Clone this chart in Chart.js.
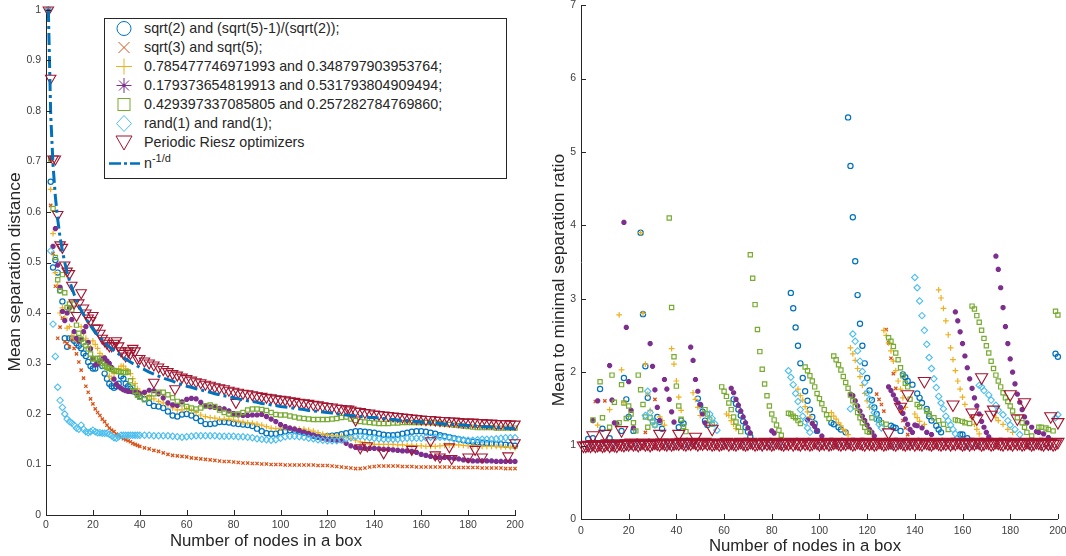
<!DOCTYPE html>
<html>
<head>
<meta charset="utf-8">
<script src="https://cdn.jsdelivr.net/npm/chart.js@4"></script>
<style>
  html, body { margin: 0; padding: 0; background: #fff; }
  body { width: 1066px; height: 556px; position: relative; overflow: hidden; font-family: "Liberation Sans", Arial, sans-serif; }
  canvas { position: absolute; top: 0; }
  #leftChart { left: 0; }
  #rightChart { left: 533px; top: -3px; }
  #legend { position: absolute; left: 104px; top: 18px; width: 403px; height: 161px; border: 1px solid #262626; background: #fff; box-sizing: border-box; }
  .row { position: absolute; left: 0; height: 19px; line-height: 19px; font-size: 14.3px; color: #262626; white-space: nowrap; }
  .row svg { position: absolute; left: 4px; top: 0; }
  .row span { position: absolute; left: 39px; }
  .row sup { font-size: 11px; line-height: 0; }
</style>
</head>
<body>
<canvas id="leftChart" width="533" height="556"></canvas>
<canvas id="rightChart" width="533" height="556"></canvas>
<div id="legend"></div>
<script>
// --- Labels ---
const seriesNames = [
  "sqrt(2) and (sqrt(5)-1)/(sqrt(2));",
  "sqrt(3) and sqrt(5);",
  "0.785477746971993 and 0.348797903953764;",
  "0.179373654819913 and 0.531793804909494;",
  "0.429397337085805 and 0.257282784769860;",
  "rand(1) and rand(1);",
  "Periodic Riesz optimizers"
];
const xAxisTitle = "Number of nodes in a box";
const leftYTitle = "Mean separation distance";
const rightYTitle = "Mean to minimal separation ratio";
const xTicks = [0, 20, 40, 60, 80, 100, 120, 140, 160, 180, 200];
const leftYTicks = [0, 0.1, 0.2, 0.3, 0.4, 0.5, 0.6, 0.7, 0.8, 0.9, 1];
const rightYTicks = [0, 1, 2, 3, 4, 5, 6, 7];

// --- Left chart data ---
const nodes = [1,2,3,4,5,6,7,8,9,10,11,12,13,14,15,16,17,18,19,20,21,22,23,24,25,26,27,28,29,30,31,32,33,34,35,36,37,38,39,40,
  42,44,46,48,50,52,54,56,58,60,62,64,66,68,70,72,74,76,78,80,82,84,86,88,90,92,94,96,98,100,
  102,104,106,108,110,112,114,116,118,120,122,124,126,128,130,132,134,136,138,140,142,144,146,148,150,152,154,156,158,160,
  162,164,166,168,170,172,174,176,178,180,182,184,186,188,190,192,194,196,198,200];
const meanSqrt2 = [1,.66,.49,.505,.48,.445,.423,.35,.333,.35,.35,.345,.34,.335,.33,.32,.315,.303,.295,.29,.29,.3,.31,.295,.28,.27,.26,.255,.252,.255,.26,.275,.27,.26,.255,.25,.245,.245,.24,.235,
  .23,.222,.216,.215,.212,.205,.197,.195,.199,.2,.197,.192,.186,.18,.18,.181,.184,.184,.183,.181,.18,.179,.178,.176,.171,.166,.162,.161,.161,.164,
  .166,.168,.167,.165,.163,.16,.157,.155,.155,.156,.157,.158,.16,.162,.164,.166,.166,.165,.164,.163,.161,.159,.158,.158,.159,.161,.163,.165,.166,.166,
  .165,.163,.161,.158,.156,.154,.152,.15,.148,.146,.145,.144,.143,.142,.141,.14,.14,.139,.138,.137];
const meanSqrt3 = [1,.613,.518,.453,.35,.372,.39,.343,.34,.333,.348,.33,.319,.303,.287,.271,.255,.243,.23,.22,.21,.203,.197,.19,.185,.178,.172,.168,.165,.16,.157,.154,.151,.149,.147,.145,.142,.14,.138,.136,
  .133,.131,.128,.126,.123,.12,.118,.117,.116,.115,.113,.112,.111,.11,.109,.108,.107,.106,.106,.105,.104,.103,.103,.102,.102,.101,.101,.1,.1,.1,
  .099,.099,.099,.099,.099,.099,.099,.098,.098,.098,.097,.096,.095,.094,.093,.092,.092,.093,.095,.096,.097,.097,.097,.097,.097,.096,.096,.096,.095,.095,
  .095,.095,.095,.095,.095,.095,.094,.094,.094,.094,.094,.094,.093,.093,.093,.093,.093,.092,.092,.092];
const meanPairA = [1,.645,.557,.48,.455,.4,.41,.39,.37,.373,.355,.35,.345,.345,.373,.36,.35,.34,.332,.345,.338,.33,.32,.315,.3,.29,.275,.27,.28,.285,.29,.295,.295,.29,.285,.28,.27,.26,.25,.245,
  .24,.235,.23,.225,.222,.218,.212,.208,.208,.21,.207,.203,.198,.195,.193,.192,.19,.19,.19,.188,.186,.184,.183,.182,.18,.178,.175,.172,.171,.172,
  .172,.172,.171,.17,.17,.168,.166,.163,.16,.158,.157,.156,.156,.155,.152,.148,.145,.143,.141,.14,.14,.14,.14,.14,.139,.139,.138,.138,.137,.137,
  .136,.136,.136,.137,.138,.138,.139,.139,.138,.137,.137,.136,.136,.136,.136,.136,.135,.135,.134,.133];
const meanPairB = [1,.705,.532,.567,.495,.451,.403,.385,.4,.41,.387,.363,.35,.345,.348,.363,.373,.342,.329,.31,.297,.299,.304,.308,.311,.305,.3,.292,.269,.259,.254,.251,.248,.246,.245,.245,.245,.243,.243,.24,
  .243,.247,.246,.24,.232,.222,.218,.217,.224,.229,.231,.23,.223,.216,.214,.213,.211,.21,.206,.201,.198,.197,.197,.198,.198,.199,.195,.19,.185,.179,
  .175,.172,.17,.167,.164,.161,.158,.155,.152,.15,.149,.148,.147,.142,.137,.134,.133,.132,.132,.132,.131,.13,.13,.129,.128,.127,.127,.126,.124,.12,
  .118,.116,.114,.114,.114,.113,.112,.111,.109,.108,.107,.107,.107,.107,.107,.106,.106,.106,.106,.106];
const meanPairC = [1,.705,.607,.51,.466,.444,.476,.44,.411,.418,.406,.418,.376,.36,.348,.342,.335,.329,.319,.309,.31,.31,.305,.3,.295,.292,.29,.288,.286,.285,.284,.283,.282,.282,.283,.266,.253,.245,.237,.233,
  .228,.232,.24,.243,.243,.238,.232,.225,.22,.215,.212,.21,.212,.216,.218,.215,.208,.203,.2,.199,.2,.203,.208,.21,.21,.209,.207,.203,.199,.198,
  .198,.196,.194,.192,.191,.19,.189,.189,.189,.189,.19,.191,.193,.194,.19,.187,.185,.184,.183,.182,.181,.181,.181,.182,.182,.183,.183,.183,.183,.183,
  .183,.183,.182,.181,.18,.179,.178,.177,.176,.175,.174,.173,.173,.173,.173,.172,.172,.172,.172,.172];
const meanRand = [1,.523,.378,.314,.253,.227,.213,.2,.19,.185,.182,.178,.172,.17,.178,.17,.165,.163,.165,.168,.165,.163,.163,.162,.162,.162,.16,.157,.153,.152,.155,.158,.158,.158,.158,.158,.158,.158,.158,.158,
  .158,.158,.157,.157,.157,.157,.156,.155,.154,.155,.156,.157,.157,.157,.157,.157,.156,.156,.156,.156,.155,.155,.154,.153,.151,.15,.149,.148,.149,.152,
  .155,.156,.156,.155,.154,.152,.151,.149,.148,.147,.147,.147,.149,.151,.153,.155,.156,.155,.153,.152,.151,.15,.15,.15,.15,.151,.152,.152,.152,.152,
  .153,.154,.154,.154,.154,.153,.151,.15,.149,.148,.148,.149,.15,.15,.15,.151,.152,.153,.153,.153];
const meanRiesz = [1,.865,.705,.705,.595,.535,.53,.495,.483,.478,.455,.42,.395,.42,.44,.41,.4,.39,.385,.395,.37,.37,.36,.35,.345,.34,.335,.335,.34,.345,.335,.325,.32,.315,.325,.32,.33,.325,.31,.31,
  .305,.301,.297,.293,.288,.284,.28,.277,.273,.27,.267,.264,.262,.259,.257,.254,.252,.25,.247,.245,.243,.241,.24,.238,.236,.235,.233,.232,.23,.229,
  .228,.226,.225,.223,.222,.221,.219,.218,.216,.215,.214,.212,.211,.21,.208,.206,.205,.203,.202,.2,.199,.198,.197,.196,.195,.194,.193,.192,.191,.19,
  .189,.189,.188,.187,.187,.186,.186,.185,.184,.184,.184,.183,.183,.182,.182,.181,.181,.181,.18,.18];
const rieszDipNodes = [46,55,81,129,132,134,137,144,156,164,166,168,172,173,180,183,186,197,200];
const rieszDipValues = [.263,.25,.223,.21,.188,.133,.137,.123,.13,.147,.119,.115,.135,.112,.115,.13,.115,.117,.143];
const powerLaw = [1,.794,.693,.63,.585,.55,.523,.5,.481,.464,.45,.437,.425,.415,.405,.397,.389,.382,.375,.368,.362,.357,.352,.347,.342,.337,.333,.329,.326,.322,.319,.315,.312,.309,.306,.303,.3,.298,.295,.292,
  .288,.283,.279,.275,.271,.268,.265,.261,.258,.255,.253,.25,.248,.245,.243,.24,.238,.236,.234,.232,.23,.228,.226,.225,.223,.221,.22,.218,.217,.215,
  .214,.213,.211,.21,.209,.207,.206,.205,.204,.203,.202,.2,.199,.198,.197,.196,.195,.194,.193,.193,.192,.191,.19,.189,.188,.187,.187,.186,.185,.184,
  .183,.183,.182,.181,.18,.18,.179,.178,.178,.177,.176,.176,.175,.175,.174,.173,.173,.172,.172,.171];

// --- Right chart data (only the points standing clear of the band at 1, plus some of the band) ---
const ratioSqrt2N = [3,5,8,9,12,17,18,19,20,22,25,26,27,28,32,33,34,41,42,43,49,50,51,52,53,64,65,66,67,68,69,70,71,88,89,90,91,92,93,94,95,96,97,98,99,105,106,108,109,111,112,113,114,115,116,117,118,119,120,121,122,123,124,125,130,131,132,134,135,136,137,139,141,142,143,145,146,147,149,150,151,159,160,162,199,200];
const ratioSqrt2V = [1.09,1.1,1.77,1.23,1.1,1.2,1.92,1.63,1.39,1.2,3.9,2.79,2.08,1.65,1.39,1.32,1.23,1.25,1.34,1.3,1.64,1.55,1.46,1.34,1.28,1.63,1.57,1.49,1.41,1.33,1.25,1.19,1.12,3.08,2.87,2.61,2.36,2.12,1.92,1.74,1.61,1.49,1.39,1.3,1.2,1.31,1.29,1.25,1.22,1.18,5.47,4.81,4.11,3.51,3.05,2.66,2.36,2.12,1.92,1.75,1.62,1.52,1.43,1.35,1.27,1.25,1.24,1.2,1.97,1.93,1.88,1.83,1.71,1.65,1.58,1.5,1.4,1.34,1.27,1.22,1.18,1.15,1.15,1.1,2.25,2.21];
const ratioSqrt3N = [6,10,27,31,124,125,126,127,128,129,130,131,132,134,135,136,137];
const ratioSqrt3V = [1.6,1.61,1.18,1.63,1.7,1.63,1.56,1.47,2.58,2.4,2.19,1.98,1.78,1.47,1.34,1.24,1.15];
const ratioPairAN = [7,12,16,17,18,25,26,27,28,29,33,34,35,38,39,40,41,42,47,48,49,50,61,62,63,64,65,91,92,93,94,95,96,97,105,106,107,108,109,110,111,112,113,114,115,116,117,118,119,120,121,127,128,129,130,131,132,133,134,135,136,140,141,142,144,150,151,152,153,154,155,156,157,158,159,160,161,164,165,166,167,174,175,177,179,181];
const ratioPairAV = [1.28,1.49,2.78,2.03,1.59,3.9,2.8,2.11,1.7,1.48,1.39,1.34,1.28,2.32,2.11,1.88,1.66,1.48,1.72,1.63,1.52,1.41,1.43,1.41,1.34,1.29,1.23,1.77,1.68,1.62,1.53,1.46,1.39,1.32,1.45,1.4,1.36,1.31,1.27,1.22,1.19,1.15,2.33,2.25,2.16,2.05,1.94,1.82,1.71,1.61,1.52,2.57,2.5,2.4,2.29,2.15,2.02,1.88,1.77,1.65,1.52,1.43,1.38,1.33,1.29,3.12,3.01,2.87,2.7,2.51,2.33,2.17,2.02,1.88,1.77,1.66,1.56,1.38,1.29,1.22,1.16,1.38,1.34,1.29,1.22,1.18];
const ratioPairBN = [5,7,12,13,14,15,18,19,20,21,22,29,30,31,32,33,35,36,37,38,39,46,47,48,49,50,51,52,63,64,65,66,67,68,69,70,71,80,81,95,97,98,99,101,113,114,115,116,117,118,119,120,121,122,123,129,130,131,132,133,134,135,136,137,138,139,140,141,143,145,147,157,158,159,160,161,162,163,164,165,166,167,168,169,170,171,174,175,176,177,178,179,180,181,182,183,184,185,186,187,189,191,192,194,196];
const ratioPairBV = [1.34,1.61,2.09,1.62,1.31,1.3,4.04,2.61,1.87,1.48,1.24,2.39,2.08,1.76,1.52,1.34,1.9,1.77,1.63,1.46,1.32,2.34,2.16,1.9,1.74,1.56,1.43,1.31,1.78,1.72,1.63,1.55,1.47,1.39,1.31,1.24,1.17,1.2,1.17,1.35,1.3,1.26,1.2,1.13,1.7,1.68,1.61,1.54,1.47,1.4,1.34,1.28,1.22,1.18,1.13,1.8,1.75,1.69,1.63,1.58,1.52,1.44,1.36,1.29,1.22,1.18,1.28,1.27,1.24,1.18,1.15,2.82,2.7,2.55,2.39,2.22,2.06,1.91,1.78,1.65,1.54,1.43,1.33,1.25,1.18,1.12,3.58,3.4,3.15,2.88,2.62,2.39,2.18,2,1.84,1.7,1.59,1.49,1.39,1.31,1.25,1.19,1.18,1.16,1.11];
const ratioPairCN = [5,8,9,12,13,14,16,17,18,19,20,21,22,23,24,25,26,27,28,29,30,31,37,38,39,40,41,42,43,44,52,53,54,55,59,60,61,62,63,64,65,66,67,71,72,73,74,75,76,77,78,79,80,81,82,83,84,87,88,89,90,91,92,94,95,96,97,98,99,100,101,102,103,104,106,107,108,109,110,111,112,113,114,115,116,117,118,119,120,121,122,124,126,128,129,130,131,132,133,134,135,136,137,138,141,142,145,146,148,150,152,154,157,158,160,161,163,164,165,166,167,168,169,170,171,172,173,174,175,176,177,178,179,180,181,183,185,186,187,189,192,193,195,196,198,199,200];
const ratioPairCV = [1.35,1.87,1.38,1.25,1.96,1.59,1.31,1.83,1.58,1.37,1.54,1.43,1.31,1.2,1.96,1.76,1.56,1.39,1.25,1.38,1.32,1.28,4.1,2.88,2.21,1.81,1.54,1.36,1.26,1.19,1.49,1.43,1.35,1.29,1.8,1.74,1.67,1.58,1.49,1.39,1.32,1.25,1.19,3.6,3.28,2.92,2.58,2.28,2.04,1.84,1.68,1.54,1.43,1.35,1.28,1.21,1.14,1.44,1.43,1.4,1.38,1.34,1.3,2.07,2.02,1.95,1.88,1.8,1.71,1.64,1.57,1.49,1.42,1.37,2.22,2.17,2.1,2.03,1.94,1.86,1.78,1.69,1.61,1.53,1.45,1.38,1.31,1.25,1.19,1.18,1.38,1.36,1.31,1.29,2.47,2.42,2.35,2.26,2.17,2.06,1.95,1.85,1.8,1.63,1.56,1.53,1.47,1.43,1.38,1.34,1.29,1.22,1.35,1.34,1.33,1.31,1.3,2.9,2.86,2.77,2.68,2.57,2.46,2.36,2.26,2.15,2.05,1.96,1.88,1.8,1.72,1.65,1.6,1.54,1.47,1.38,1.31,1.25,1.18,1.13,1.25,1.25,1.24,1.22,1.2,2.83,2.78];
const ratioRandN = [4,9,14,19,24,27,28,29,30,31,36,40,44,48,54,55,56,57,60,64,68,72,76,80,84,87,88,89,90,91,92,93,94,95,96,100,104,108,112,113,114,115,116,117,118,119,120,121,122,123,124,125,126,130,134,138,140,141,142,143,144,145,146,147,148,149,150,151,152,153,154,155,156,157,158,162,166,167,168,169,171,172,174,175,177,179,180,182,184,188,192,196,199,200];
const ratioRandV = [.99,1.02,1,.98,1.01,1.41,1.74,1.45,1.34,1.28,1,.99,1.01,1,1.43,1.37,1.3,1.21,1,.99,1.01,1,.99,1.01,.99,2.02,1.93,1.83,1.71,1.6,1.49,1.4,1.32,1.24,1.18,1,.99,1.01,1,1.5,2.52,2.42,2.29,2.15,2.01,1.86,1.72,1.63,1.54,1.45,1.36,1.29,1.24,.99,1,1,3.29,3.15,2.97,2.77,2.57,2.38,2.2,2.05,1.91,1.79,1.67,1.58,1.5,1.4,1.34,1.28,1.22,1.16,1.11,.99,1,1.82,1.8,1.75,1.69,1.62,1.55,1.48,1.42,1.34,1.28,1.22,1.15,.99,1,.98,1.38,1.42];
const ratioRiesz = [1,1,1.01,1,1.02,1,1.01,1.02,1,1.01,1.03,1,1.02,1.01,1,1.03,1.02,1.01,1.03,1.02,
  1.04,1.02,1.03,1.01,1.03,1.04,1.02,1.03,1.01,1.03,1.04,1.03,1.02,1.04,1.03,1.02,1.04,1.02,1.03,1.04,
  1.03,1.05,1.03,1.02,1.04,1.03,1.05,1.04,1.02,1.04,1.03,1.05,1.03,1.04,1.02,1.03,1.04,1.02,1.03,1.04,
  1.05,1.02,1.04,1.03,1.02,1.04,1.05,1.03,1.02,1.03,1.05,1.04,1.02,1.03,1.04,1.02,1.05,1.03,1.04,1.02,
  1.03,1.05,1.04,1.03,1.02,1.04,1.03,1.05,1.02,1.04,1.03,1.02,1.05,1.03,1.04,1.02,1.03,1.05,1.04,1.02,
  1.04,1.03,1.05,1.02,1.03,1.04,1.05,1.03,1.02,1.04,1.03,1.05,1.04,1.02,1.03,1.05,1.04,1.03,1.02,1.05,
  1.03,1.04,1.02,1.03,1.05,1.04,1.02,1.03,1.04,1.05,1.03,1.02,1.04,1.05,1.03,1.02,1.04,1.03,1.05,1.02,
  1.04,1.03,1.02,1.05,1.04,1.03,1.02,1.04,1.05,1.03,1.02,1.04,1.03,1.05,1.02,1.04,1.03,1.05,1.04,1.02,
  1.03,1.05,1.02,1.04,1.03,1.05,1.04,1.02,1.03,1.05,1.04,1.02,1.03,1.05,1.04,1.03,1.02,1.05,1.03,1.04,
  1.02,1.05,1.03,1.04,1.02,1.03,1.05,1.04,1.02,1.03,1.05,1.04,1.03,1.02,1.05,1.03,1.04,1.02,1.03,1.05];
const ratioRieszHighN = [5,10,17,33,41,48,55,129,134,137,144,156,164,166,168,172,173,180,183,186,197,200];
const ratioRieszHighV = [1.14,1.16,1.21,1.16,1.16,1.12,1.23,1.18,1.53,1.7,1.88,1.56,1.45,1.37,1.93,1.42,1.49,1.7,1.37,1.59,1.4,1.32];

// --- Colours and markers ---
const colors = ["#0072BD", "#D95319", "#EDB120", "#7E2F8E", "#77AC30", "#4DBEEE", "#A2142F"];
const pointStyles = ["circle", "crossRot", "cross", "star", "rect", "rectRot", "triangle"];
const pointRadii = [2.6, 2.3, 2.9, 2.6, 3, 3.2, 6];
const pointWidths = [1.2, 1.3, 1.2, 2, 1.2, 1.1, 1.1];
const tickColor = "#404040";
const textColor = "#262626";

function toPoints(xs, ys) {
    return xs.map((x, i) => ({ x: x, y: ys[i] }));
}

function markerDataset(i, data, radius) {
    return {
        label: seriesNames[i],
        data: data,
        showLine: false,
        pointStyle: pointStyles[i],
        pointRotation: i === 6 ? 180 : 0,
        pointRadius: radius || pointRadii[i],
        pointBorderWidth: pointWidths[i],
        pointBorderColor: colors[i],
        pointBackgroundColor: "rgba(0,0,0,0)",
        clip: false,
        order: 10 - i
    };
}

// Ticks in the original point inwards, which Chart.js can't do on its own
const inwardTicks = {
    id: "inwardTicks",
    afterDatasetsDraw(chart) {
        const ctx = chart.ctx;
        const { x, y } = chart.scales;
        ctx.save();
        ctx.strokeStyle = textColor;
        ctx.lineWidth = 1;
        ctx.beginPath();
        x.ticks.forEach(t => {
            const px = Math.round(x.getPixelForValue(t.value)) + 0.5;
            ctx.moveTo(px, x.top);
            ctx.lineTo(px, x.top - 5);
        });
        y.ticks.forEach(t => {
            const py = Math.round(y.getPixelForValue(t.value)) + 0.5;
            ctx.moveTo(y.right, py);
            ctx.lineTo(y.right + 5, py);
        });
        ctx.stroke();
        ctx.restore();
    }
};

// The axis titles sit off centre in the original, so they are placed by hand
const axisTitles = {
    id: "axisTitles",
    afterDraw(chart, args, opts) {
        const ctx = chart.ctx;
        ctx.save();
        ctx.fillStyle = textColor;
        ctx.textAlign = "center";
        ctx.textBaseline = "middle";
        ctx.font = '16.8px "Liberation Sans", Arial, sans-serif';
        ctx.fillText(opts.xText, opts.xAt[0], opts.xAt[1]);
        ctx.translate(opts.yAt[0], opts.yAt[1]);
        ctx.rotate(-Math.PI / 2);
        ctx.font = '17.4px "Liberation Sans", Arial, sans-serif';
        ctx.fillText(opts.yText, 0, 0);
        ctx.restore();
    }
};

function makeOptions(cfg) {
    return {
        responsive: false,
        animation: false,
        layout: { padding: cfg.padding },
        plugins: {
            legend: { display: false },
            tooltip: { enabled: false },
            axisTitles: { xText: xAxisTitle, yText: cfg.yTitle, xAt: cfg.xTitleAt, yAt: cfg.yTitleAt }
        },
        scales: {
            x: {
                type: "linear", min: 0, max: 200,
                afterBuildTicks: s => { s.ticks = xTicks.map(v => ({ value: v })); },
                afterFit: s => { s.height = cfg.bottom; s.paddingLeft = 0; s.paddingRight = 0; },
                grid: { display: true, drawOnChartArea: false, drawTicks: false },
                border: { color: textColor },
                ticks: { color: tickColor, font: { size: 10.5 }, padding: cfg.xTickPad, maxRotation: 0, autoSkip: false, callback: v => String(v) }
            },
            y: {
                type: "linear", min: 0, max: cfg.yMax,
                afterBuildTicks: s => { s.ticks = cfg.yTicks.map(v => ({ value: v })); },
                afterFit: s => { s.width = cfg.left; s.paddingTop = 0; s.paddingBottom = 0; },
                grid: { display: true, drawOnChartArea: false, drawTicks: false },
                border: { color: textColor },
                ticks: { color: tickColor, font: { size: 10.5 }, padding: 5, autoSkip: false, callback: v => String(v) }
            }
        }
    };
}

Chart.defaults.font.family = '"Liberation Sans", Arial, sans-serif';

// --- Left chart ---
const leftSeries = [meanSqrt2, meanSqrt3, meanPairA, meanPairB, meanPairC, meanRand];
const leftDatasets = leftSeries.map((vals, i) => markerDataset(i, toPoints(nodes, vals)));
leftDatasets.push(markerDataset(6, toPoints(nodes, meanRiesz).concat(toPoints(rieszDipNodes, rieszDipValues))));
leftDatasets.push({
    type: "line",
    label: "n^-1/d",
    data: toPoints(nodes, powerLaw),
    borderColor: colors[0],
    borderWidth: 3,
    borderDash: [12, 4, 3, 4],
    pointRadius: 0,
    tension: 0,
    clip: false,
    order: 1
});

new Chart(document.getElementById("leftChart"), {
    type: "scatter",
    data: { datasets: leftDatasets },
    options: makeOptions({
        padding: { top: 10, right: 18 }, bottom: 41, left: 46, yMax: 1,
        yTicks: leftYTicks, yTitle: leftYTitle, xTickPad: 4, xTitleAt: [266, 541], yTitleAt: [15, 272]
    }),
    plugins: [inwardTicks, axisTitles]
});

// --- Right chart ---
const rightDatasets = [
    markerDataset(0, toPoints(ratioSqrt2N, ratioSqrt2V)),
    markerDataset(1, toPoints(ratioSqrt3N, ratioSqrt3V)),
    markerDataset(2, toPoints(ratioPairAN, ratioPairAV)),
    markerDataset(3, toPoints(ratioPairBN, ratioPairBV)),
    markerDataset(4, toPoints(ratioPairCN, ratioPairCV)),
    markerDataset(5, toPoints(ratioRandN, ratioRandV)),
    markerDataset(6, ratioRiesz.map((v, i) => ({ x: i + 1, y: v })).concat(toPoints(ratioRieszHighN, ratioRieszHighV)), 7)
];

// This canvas sits 3px above the page top because Chart.js keeps some room over the top tick
new Chart(document.getElementById("rightChart"), {
    type: "scatter",
    data: { datasets: rightDatasets },
    options: makeOptions({
        padding: { top: 1, right: 8 }, bottom: 34, left: 48, yMax: 7,
        yTicks: rightYTicks, yTitle: rightYTitle, xTickPad: 6, xTitleAt: [272, 549], yTitleAt: [26, 283]
    }),
    plugins: [inwardTicks, axisTitles]
});

// --- Legend box ---
function markerSvg(i) {
    const c = colors[i];
    const shapes = [
        `<circle cx="15" cy="9.5" r="7" fill="none" stroke="${c}"/>`,
        `<path d="M9.5 4 L20.5 15 M20.5 4 L9.5 15" stroke="${c}"/>`,
        `<path d="M15 1.5 V17.5 M7 9.5 H23" stroke="${c}"/>`,
        `<path d="M15 2 V17 M7.5 9.5 H22.5 M10 4.5 L20 14.5 M20 4.5 L10 14.5" stroke="${c}"/><circle cx="15" cy="9.5" r="1.8" fill="${c}"/>`,
        `<rect x="9" y="3.5" width="12" height="12" fill="none" stroke="${c}"/>`,
        `<path d="M15 1.5 L22.5 9.5 L15 17.5 L7.5 9.5 Z" fill="none" stroke="${c}"/>`,
        `<path d="M7 3 H23 L15 17 Z" fill="none" stroke="${c}"/>`
    ];
    return `<svg width="31" height="19">${shapes[i]}</svg>`;
}

const legendEl = document.getElementById("legend");
const rowTops = [0, 19, 38, 57, 76, 95, 114];
seriesNames.forEach((name, i) => {
    const row = document.createElement("div");
    row.className = "row";
    row.style.top = rowTops[i] + "px";
    row.innerHTML = `${markerSvg(i)}<span>${name}</span>`;
    legendEl.appendChild(row);
});
const lineRow = document.createElement("div");
lineRow.className = "row";
lineRow.style.top = "135px";
lineRow.innerHTML = `<svg width="31" height="19"><line x1="0" x2="31" y1="9.5" y2="9.5" stroke="${colors[0]}" stroke-width="2.5" stroke-dasharray="12 3 3 3"/></svg><span>n<sup>-1/d</sup></span>`;
legendEl.appendChild(lineRow);
</script>
</body>
</html>
